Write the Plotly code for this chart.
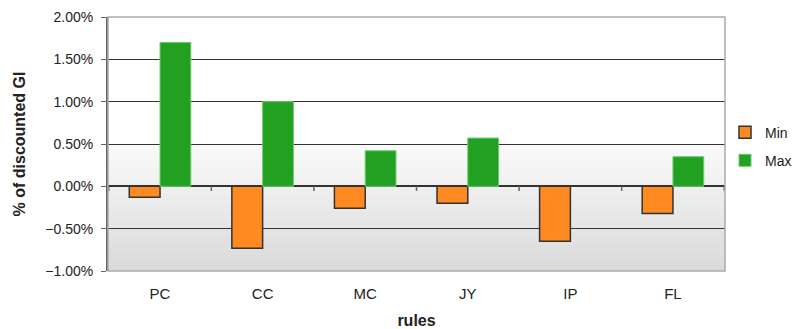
import plotly.graph_objects as go

# Rule categories and their min / max effect (as fraction of discounted GI)
rules = ["PC", "CC", "MC", "JY", "IP", "FL"]
min_vals = [-0.0013, -0.0073, -0.0026, -0.0020, -0.0065, -0.0032]
max_vals = [0.0170, 0.0100, 0.0042, 0.0057, 0.0, 0.0035]
y_ticks = [-0.01, -0.005, 0.0, 0.005, 0.01, 0.015, 0.02]

y_min, y_max = y_ticks[0], y_ticks[-1]

fig = go.Figure()
fig.add_trace(go.Bar(
    name="Min", x=rules, y=min_vals, legendgroup="min",
    marker=dict(color="#FF8A22", line=dict(color="#333333", width=1.5)),
))
fig.add_trace(go.Bar(
    name="Max", x=rules, y=max_vals, legendgroup="max",
    marker=dict(color="#21A021",
                line=dict(color="#6CCB6C", width=[0 if v == 0 else 1 for v in max_vals])),
))

shapes = []
# Vertical gradient backdrop: nested rects from light (tall) to dark (short)
y_hi = y_ticks[3]
n = 48
for i in range(n):
    b = y_hi - (y_hi - y_min) * i / n
    t = 1 - i / (n - 1)
    g = int(round(0xDA + (0xFA - 0xDA) * t))
    shapes.append(dict(type="rect", xref="paper", yref="y", x0=0, x1=1, y0=y_min, y1=b,
                       fillcolor=f"rgb({g},{g},{g})", line=dict(width=0), layer="below"))

# Category boundary ticks along the zero line
zero_frac = (0 - y_min) / (y_max - y_min)
for i in range(len(rules) + 1):
    shapes.append(dict(type="line", xref="x", yref="paper", x0=i - 0.5, x1=i - 0.5,
                       y0=zero_frac - 0.018, y1=zero_frac,
                       line=dict(color="#666666", width=1.5)))

# Plot frame
shapes.append(dict(type="rect", xref="paper", yref="paper", x0=0, x1=1, y0=0, y1=1,
                   line=dict(color="#AAAAAA", width=1.5), layer="above"))

fig.update_layout(
    width=796, height=329,
    margin=dict(l=108, r=71, t=17, b=58, autoexpand=False),
    paper_bgcolor="white", plot_bgcolor="white",
    font=dict(family="Liberation Sans, Arial, sans-serif", size=14, color="#222222"),
    barmode="group", bargap=0.4, bargroupgap=0.0,
    shapes=shapes,
    showlegend=True,
    legend=dict(x=1.0, xanchor="left", y=0.49, yanchor="middle",
                font=dict(size=14, color="#222222"), bgcolor="rgba(0,0,0,0)",
                traceorder="grouped", tracegroupgap=7),
    xaxis=dict(
        title=dict(text="<b>rules</b>", font=dict(size=16), standoff=14),
        showgrid=False, zeroline=False, showline=False, ticks="",
        tickfont=dict(size=15), ticklabelstandoff=12,
        categoryorder="array", categoryarray=rules,
    ),
    yaxis=dict(
        title=dict(text="<b>% of discounted GI</b>", font=dict(size=16), standoff=16),
        range=[y_min, y_max], tickvals=y_ticks, tickformat=".2%",
        showgrid=True, gridcolor="#333333", gridwidth=1,
        zeroline=True, zerolinecolor="#333333", zerolinewidth=1.5,
        showline=True, linecolor="#666666", linewidth=2,
        ticks="outside", ticklen=5, tickcolor="#666666",
        tickfont=dict(size=14), ticklabelstandoff=5,
    ),
)

fig.write_html("out.html")
